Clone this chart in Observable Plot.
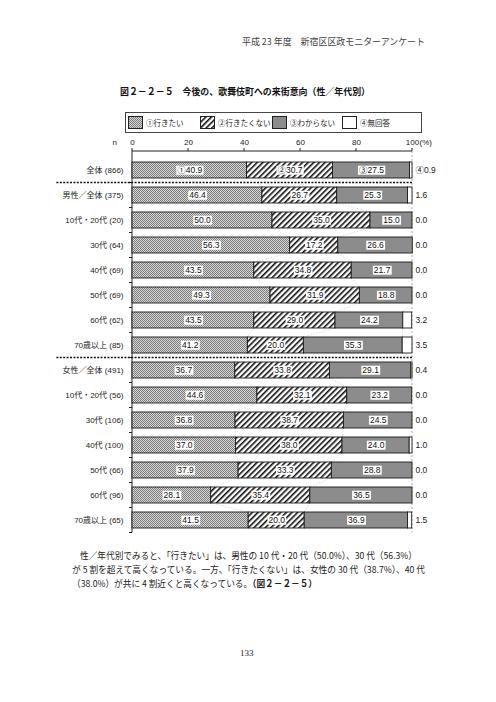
<!DOCTYPE html>
<html><head><meta charset="utf-8">
<script src="https://cdn.jsdelivr.net/npm/d3@7"></script>
<script src="https://cdn.jsdelivr.net/npm/@observablehq/plot@0.6"></script>
<style>
body{margin:0;width:496px;height:702px;position:relative;background:#fff;font-family:"Noto Sans CJK JP","Liberation Sans",sans-serif;overflow:hidden;color:#222}
.abs{position:absolute;white-space:nowrap;transform-origin:0 50%}
#legend{position:absolute;left:125px;top:112px;width:295px;height:19px;border:1px solid #444;background:#fff}
.lg{position:absolute;top:0;height:19px;display:flex;align-items:center;font-size:7.5px;white-space:nowrap}
.lg svg{margin-right:3px;display:block}
#chart{position:absolute;left:0;top:130px}
</style></head><body>
<svg width="0" height="0" style="position:absolute">
<defs>
<pattern id="pWant" width="2" height="2" patternUnits="userSpaceOnUse">
<rect width="2" height="2" fill="#d6d6d6"/>
<rect width="1" height="1" fill="#7c7c7c"/>
<rect x="1" y="1" width="1" height="1" fill="#7c7c7c"/>
</pattern>
<pattern id="pNot" width="4" height="4" patternUnits="userSpaceOnUse" patternTransform="rotate(45)">
<rect width="4" height="4" fill="#fff"/>
<rect width="1.6" height="4" fill="#111"/>
</pattern>
</defs>
</svg>

<div class="abs" id="hdr" style="left:242px;top:34px;font-size:9.5px;color:#444">平成 23 年度　新宿区区政モニターアンケート</div>
<div class="abs" id="ttl" style="left:120px;top:84px;font-size:9.5px;font-weight:bold;color:#111">図２－２－５　今後の、歌舞伎町への来街意向（性／年代別）</div>
<div id="legend"></div>
<div id="chart"></div>
<div class="abs" id="p1" style="left:80px;top:548px;font-size:9.5px">性／年代別でみると、「行きたい」は、男性の 10 代・20 代（50.0%）、30 代（56.3%）</div>
<div class="abs" id="p2" style="left:72px;top:562px;font-size:9.5px">が 5 割を超えて高くなっている。一方、「行きたくない」は、女性の 30 代（38.7%）、40 代</div>
<div class="abs" id="p3" style="left:72px;top:576px;font-size:9.5px">（38.0%）が共に 4 割近くと高くなっている。<b>（図２－２－５）</b></div>
<div class="abs" style="left:240px;top:648px;font-size:9px;font-family:'Liberation Serif','DejaVu Serif',serif">133</div>

<script>
// ---- data ----
const categories = ["全体 (866)","男性／全体 (375)","10代・20代 (20)","30代 (64)","40代 (69)","50代 (69)","60代 (62)","70歳以上 (85)","女性／全体 (491)","10代・20代 (56)","30代 (106)","40代 (100)","50代 (66)","60代 (96)","70歳以上 (65)"];
const groups = [0,1,1,1,1,1,1,1,2,2,2,2,2,2,2];
const answers = ["①行きたい","②行きたくない","③わからない","④無回答"];
const circled = ["①","②","③","④"];
const want     = [40.9,46.4,50.0,56.3,43.5,49.3,43.5,41.2,36.7,44.6,36.8,37.0,37.9,28.1,41.5];
const notWant  = [30.7,26.7,35.0,17.2,34.8,31.9,29.0,20.0,33.8,32.1,38.7,38.0,33.3,35.4,20.0];
const dontKnow = [27.5,25.3,15.0,26.6,21.7,18.8,24.2,35.3,29.1,23.2,24.5,24.0,28.8,36.5,36.9];
const noAnswer = [0.9,1.6,0.0,0.0,0.0,0.0,3.2,3.5,0.4,0.0,0.0,1.0,0.0,0.0,1.5];
const xTicks = [0,20,40,60,80,100];
const answerFills = ["url(#pWant)","url(#pNot)","#8c8c8c","#ffffff"];

const series = [want, notWant, dontKnow, noAnswer];
const long = categories.flatMap((c,i) => answers.map((a,j) => ({
  cat: c, i, ans: a, j, value: series[j][i],
  label: (i === 0 ? circled[j] : "") + series[j][i].toFixed(1)
})));

// ---- legend ----
const legend = document.getElementById("legend");
const lgPos = [[2,19],[74,89],[146,161],[216,231]];
answers.forEach((a,j) => {
  const d = document.createElement("div");
  d.className = "lg"; d.style.left = lgPos[j][0] + "px";
  d.innerHTML = `<svg width="15" height="13"><rect x="0.5" y="0.5" width="14" height="12" fill="${answerFills[j]}" stroke="#222" stroke-width="1"/></svg><span>${a}</span>`;
  legend.appendChild(d);
});

// ---- decoration mark drawn through the scales ----
function decor(index, scales, values, dims) {
  const x = scales.x, y = scales.y;
  const bw = typeof y.bandwidth === "function" ? y.bandwidth() : y.bandwidth;
  const st = typeof y.step === "function" ? y.step() : y.step;
  const gap = st - bw;
  const top = dims.marginTop;
  const last = categories[categories.length - 1];
  const bottom = y(last) + bw + gap / 2;
  const g = d3.create("svg:g").attr("fill", "none");
  g.append("line").attr("x1", x(100)).attr("x2", x(100)).attr("y1", top).attr("y2", bottom)
    .attr("stroke", "#999").attr("stroke-dasharray", "2,2").attr("stroke-width", 0.8);
  for (let i = 0; i < categories.length - 1; i++) {
    if (groups[i] === 0 || groups[i] !== groups[i+1]) continue;
    let a = 0, b = 0;
    for (let j = 0; j < 3; j++) {
      a += series[j][i]; b += series[j][i+1];
      g.append("line").attr("x1", x(a)).attr("y1", y(categories[i]) + bw)
        .attr("x2", x(b)).attr("y2", y(categories[i+1]))
        .attr("stroke", "#c4c4c4").attr("stroke-width", 0.6).attr("stroke-dasharray", "1.5,1.5");
    }
  }
  g.append("line").attr("x1", x(0)).attr("x2", x(100)).attr("y1", top).attr("y2", top)
    .attr("stroke", "#222").attr("stroke-width", 1);
  for (const t of xTicks) g.append("line").attr("x1", x(t)).attr("x2", x(t)).attr("y1", top - 3).attr("y2", top)
    .attr("stroke", "#222").attr("stroke-width", 1);
  g.append("line").attr("x1", x(0)).attr("x2", x(0)).attr("y1", top).attr("y2", bottom)
    .attr("stroke", "#222").attr("stroke-width", 1);
  categories.forEach((c) => {
    const yy = y(c) + bw + gap / 2;
    g.append("line").attr("x1", x(0) - 3).attr("x2", x(0)).attr("y1", yy).attr("y2", yy)
      .attr("stroke", "#222").attr("stroke-width", 1);
  });
  for (let i = 1; i < categories.length; i++) {
    if (groups[i] === groups[i-1]) continue;
    const yy = y(categories[i]) - gap / 2;
    g.append("line").attr("x1", x(-27)).attr("x2", x(100)).attr("y1", yy).attr("y2", yy)
      .attr("stroke", "#111").attr("stroke-width", 1.6).attr("stroke-dasharray", "2,1.4");
  }
  return g.node();
}

const chart = Plot.plot({
  width: 496, height: 410,
  marginTop: 21, marginLeft: 132, marginRight: 84, marginBottom: 2,
  style: {fontFamily: "'Liberation Sans','Noto Sans CJK JP',sans-serif", fontSize: "8px", color: "#222", background: "transparent", overflow: "visible"},
  x: {domain: [0, 100], axis: "top", ticks: xTicks, tickSize: 0, tickPadding: 7, tickFormat: d => String(d), label: null},
  y: {domain: categories, paddingInner: 0.38, paddingOuter: 0.19, axis: "left", tickSize: 0, tickPadding: 9, label: null},
  color: {type: "ordinal", domain: answers, range: answerFills},
  marks: [
    decor,
    Plot.barX(long.filter(d => d.value > 0), {y: "cat", x: "value", fill: "ans", stroke: "#1a1a1a", strokeWidth: 0.9}),
    Plot.text(long.filter(d => d.j < 3), Plot.stackX({y: "cat", x: "value", z: "ans", text: "label", fill: "#111", ariaDescription: "seglabels", fontSize: 8.5})),
    Plot.text(long.filter(d => d.j === 3), {y: "cat", text: "label", frameAnchor: "right", textAnchor: "start", dx: 3, fontSize: 8.5}),
    Plot.text(["(%)"], {frameAnchor: "top-right", dx: 7, dy: -7, textAnchor: "start", lineAnchor: "bottom"}),
    Plot.text(["n"], {frameAnchor: "top-left", dx: -20, dy: -7, lineAnchor: "bottom"})
  ]
});
document.getElementById("chart").appendChild(chart);

// white boxes behind segment labels (measured from the rendered text)
let lgrp = chart.querySelector('g[aria-description="seglabels"]');
if (!lgrp) lgrp = chart.querySelector('g[aria-label="text"]');
if (lgrp) {
  for (const t of Array.from(lgrp.querySelectorAll("text"))) {
    const bb = t.getBBox();
    const r = document.createElementNS("http://www.w3.org/2000/svg", "rect");
    r.setAttribute("x", bb.x - 1); r.setAttribute("y", bb.y + 0.5);
    r.setAttribute("width", bb.width + 2); r.setAttribute("height", Math.max(bb.height - 1, 9));
    r.setAttribute("fill", "#fff");
    const tr = t.getAttribute("transform");
    if (tr) r.setAttribute("transform", tr);
    t.parentNode.insertBefore(r, t);
  }
}

function fit(id, w) {
  const el = document.getElementById(id);
  const cw = el.getBoundingClientRect().width;
  if (cw > 0) el.style.transform = `scaleX(${w / cw})`;
}
fit("hdr", 183); fit("ttl", 250); fit("p1", 337); fit("p2", 353); fit("p3", 245);
</script>
</body></html>
